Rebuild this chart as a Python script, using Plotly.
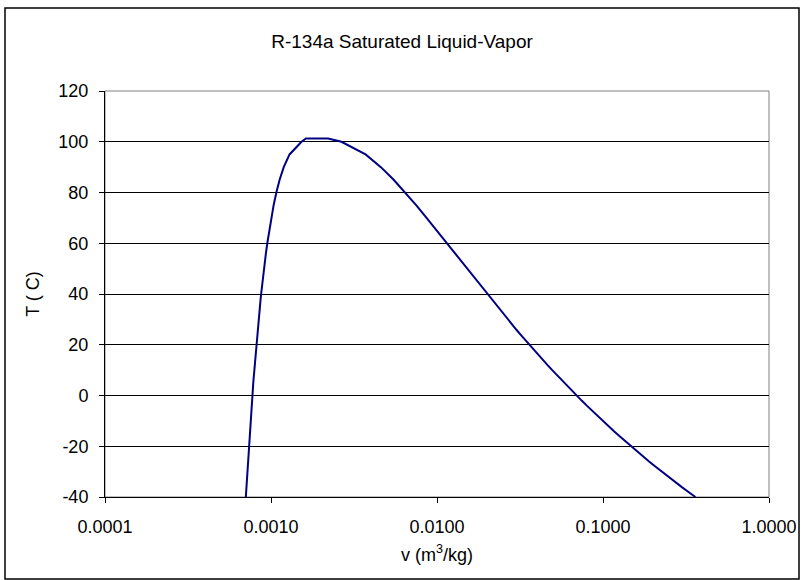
import plotly.graph_objects as go

# Saturated R-134a: temperature (C), liquid and vapor specific volume (m^3/kg)
temps = [-40, -38, -36, -34, -32, -30, -28, -26, -24, -22, -20, -18, -16, -14, -12,
         -10, -8, -6, -4, -2, 0, 2, 4, 6, 8, 10, 12, 14, 16, 18, 20, 22, 24, 26, 28,
         30, 32, 34, 36, 38, 40, 42, 44, 46, 48, 52, 56, 60, 65, 70, 75, 80, 85, 90,
         95, 100, 101.3]
v_liquid = [0.0007053, 0.0007082, 0.0007111, 0.0007141, 0.0007171, 0.0007201, 0.0007232,
            0.0007264, 0.0007296, 0.0007328, 0.0007361, 0.0007394, 0.0007428, 0.0007463,
            0.0007498, 0.0007533, 0.0007570, 0.0007607, 0.0007644, 0.0007683, 0.0007722,
            0.0007761, 0.0007802, 0.0007843, 0.0007886, 0.0007929, 0.0007973, 0.0008018,
            0.0008065, 0.0008112, 0.0008161, 0.0008210, 0.0008261, 0.0008313, 0.0008366,
            0.0008421, 0.0008478, 0.0008536, 0.0008595, 0.0008657, 0.0008720, 0.0008786,
            0.0008854, 0.0008924, 0.0008996, 0.0009150, 0.0009317, 0.0009498, 0.0009750,
            0.0010037, 0.0010372, 0.0010772, 0.0011270, 0.0011932, 0.0012933, 0.0015269,
            0.001625]
v_vapor = [0.36064, 0.32718, 0.29740, 0.27082, 0.24706, 0.22577, 0.20666, 0.18947, 0.17398,
           0.15999, 0.14735, 0.13589, 0.12550, 0.11605, 0.10744, 0.099600, 0.092438,
           0.085888, 0.079889, 0.074388, 0.069335, 0.064690, 0.060412, 0.056469, 0.052829,
           0.049466, 0.046354, 0.043471, 0.040798, 0.038317, 0.036012, 0.033867, 0.031869,
           0.030008, 0.028271, 0.026648, 0.025131, 0.023712, 0.022383, 0.021137, 0.019968,
           0.018870, 0.017837, 0.016866, 0.015951, 0.014276, 0.012782, 0.011434, 0.009959,
           0.008650, 0.007486, 0.006439, 0.005484, 0.004591, 0.003713, 0.002657, 0.00221]

x_tick_vals = [0.0001, 0.001, 0.01, 0.1, 1.0]
x_tick_text = ["0.0001", "0.0010", "0.0100", "0.1000", "1.0000"]
y_tick_vals = [-40, -20, 0, 20, 40, 60, 80, 100, 120]
y_tick_text = ["-40", "-20", "0", "20", "40", "60", "80", "100", "120"]

# Dome: liquid line up to the top, then vapor line back down
x_all = v_liquid + v_vapor[::-1]
y_all = temps + temps[::-1]

FONT = "Liberation Sans, Arial, sans-serif"
FS = 18

fig = go.Figure()
fig.add_trace(go.Scatter(
    x=x_all, y=y_all, mode="lines",
    line=dict(color="#000080", width=2),
    showlegend=False, hoverinfo="skip",
))

L, R, T, B = 105, 35, 91, 83
W, H = 804, 580
pw, ph = W - L - R, H - T - B

def px_x(p):
    return (p - L) / pw

def px_y(p):
    return 1 - (p - T) / ph

fig.update_layout(
    width=W, height=H,
    margin=dict(l=L, r=R, t=T, b=B, autoexpand=False),
    paper_bgcolor="white", plot_bgcolor="white",
    font=dict(family=FONT, size=FS, color="black"),
    title=dict(text="R-134a Saturated Liquid-Vapor", x=0.5, xref="container",
               xanchor="center", y=1 - 41 / H, yref="container", yanchor="middle",
               font=dict(family=FONT, size=19, color="black")),
    xaxis=dict(
        type="log", range=[-4, 0], tickvals=x_tick_vals, ticktext=x_tick_text,
        showgrid=False, zeroline=False, automargin=False,
        showline=True, linecolor="black", linewidth=1, mirror=False,
        ticks="outside", ticklen=5, tickcolor="black", ticklabelstandoff=8,
        tickfont=dict(family=FONT, size=FS, color="black"),
        title=dict(text="v (m<sup>3</sup>/kg)", standoff=12,
                   font=dict(family=FONT, size=FS, color="black")),
    ),
    yaxis=dict(
        range=[-40, 120], tickvals=y_tick_vals, ticktext=y_tick_text,
        showgrid=True, gridcolor="#000000", gridwidth=1, zeroline=False, automargin=False,
        showline=True, linecolor="black", linewidth=1, mirror=False,
        ticks="outside", ticklen=5, tickcolor="black", ticklabelstandoff=7,
        tickfont=dict(family=FONT, size=FS, color="black"),
        title=dict(text="T ( C)", standoff=14,
                   font=dict(family=FONT, size=FS, color="black")),
    ),
    shapes=[
        # plot-area frame (grey, top and right)
        dict(type="rect", xref="paper", yref="paper", x0=0, x1=1, y0=0, y1=1,
             line=dict(color="#808080", width=1), layer="below"),
        # outer chart border
        dict(type="rect", xref="paper", yref="paper",
             x0=px_x(5), x1=px_x(799), y0=px_y(579), y1=px_y(8),
             line=dict(color="black", width=1.5)),
    ],
)

fig.write_html(
    "out.html",
    config={"displayModeBar": False},
    post_script="document.body.style.margin='0px';document.body.style.overflow='hidden';",
)
